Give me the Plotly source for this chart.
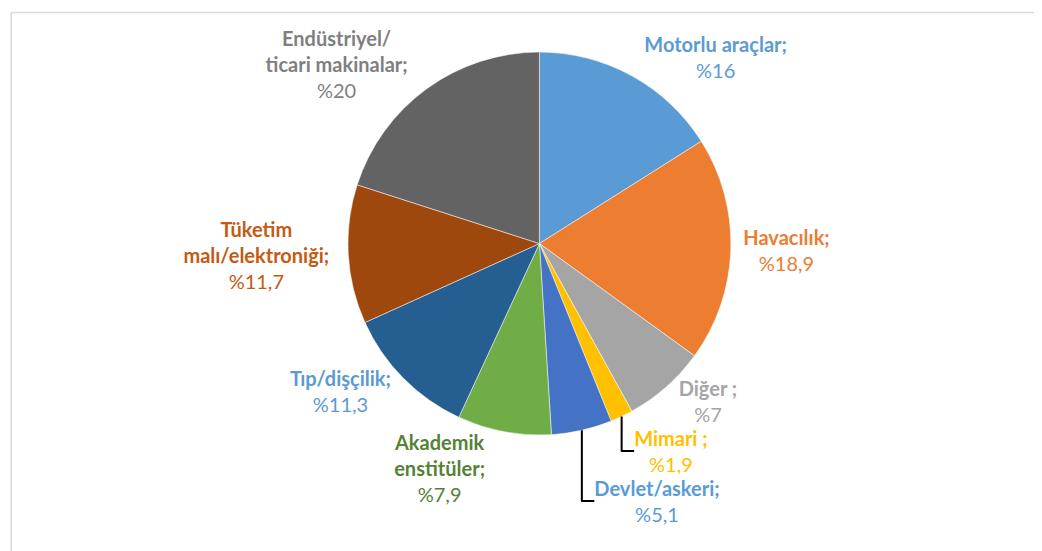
import plotly.graph_objects as go

categories = ["Motorlu araçlar", "Havacılık", "Diğer ", "Mimari ", "Devlet/askeri",
              "Akademik<br>enstitüler", "Tıp/dişçilik", "Tüketim<br>malı/elektroniği",
              "Endüstriyel/<br>ticari makinalar"]
values = [16, 18.9, 7, 1.9, 5.1, 7.9, 11.3, 11.7, 20]
value_labels = ["%16", "%18,9", "%7", "%1,9", "%5,1", "%7,9", "%11,3", "%11,7", "%20"]
slice_colors = ["#5B9BD5", "#ED7D31", "#A5A5A5", "#FFC000", "#4472C4",
                "#70AD47", "#255E91", "#9E480E", "#636363"]
label_colors = ["#5B9BD5", "#ED7D31", "#A5A5A5", "#FFC000", "#5B9BD5",
                "#548235", "#5B9BD5", "#C55A11", "#7F7F7F"]

fig = go.Figure(go.Pie(
    labels=categories,
    values=values,
    text=value_labels,
    sort=False,
    direction="clockwise",
    rotation=0,
    marker=dict(colors=slice_colors, line=dict(color="white", width=0.5)),
    textposition="outside",
    texttemplate="<b>%{label};</b><br>%{text}",
    outsidetextfont=dict(family="Lato, Open Sans, sans-serif", size=20, color=label_colors),
    domain=dict(x=[0.2, 0.82], y=[0.225, 0.92]),
    showlegend=False,
    automargin=False,
    hoverinfo="label+text",
))

fig.update_layout(
    width=1042, height=551,
    margin=dict(l=0, r=0, t=0, b=0),
    paper_bgcolor="white",
    plot_bgcolor="white",
    font=dict(family="Lato, Open Sans, sans-serif"),
    shapes=[dict(type="rect", xref="paper", yref="paper", x0=0.003, y0=-0.01, x1=1.01, y1=0.992,
                 line=dict(color="#D9D9D9", width=1.5))],
)

fig.write_html("out.html")
